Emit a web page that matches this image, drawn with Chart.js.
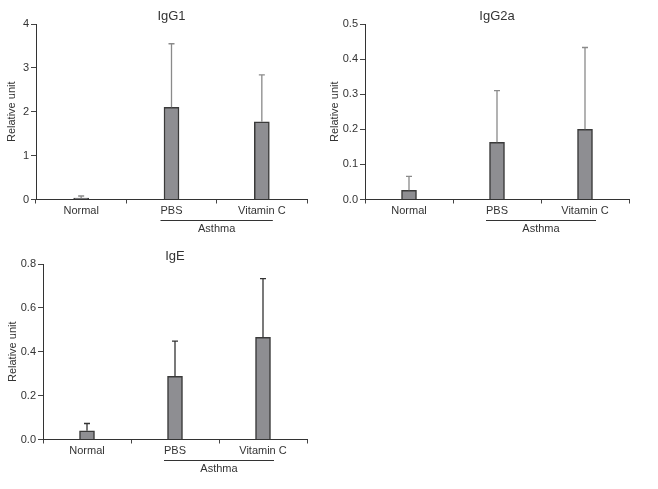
<!DOCTYPE html>
<html>
<head>
<meta charset="utf-8">
<script src="https://cdn.jsdelivr.net/npm/chart.js@4/dist/chart.umd.min.js"></script>
<style>
    body { margin: 0; background: #fff; }
    #wrap { position: relative; width: 658px; height: 489px; }
    canvas { position: absolute; }
</style>
</head>
<body>
<div id="wrap">
    <canvas id="chart_igg1" width="330" height="240" style="left:0px;top:0px"></canvas>
    <canvas id="chart_igg2a" width="332" height="240" style="left:326px;top:0px"></canvas>
    <canvas id="chart_ige" width="330" height="249" style="left:0px;top:240px"></canvas>
</div>
<script>
// groups on the x axis
const groups = ['Normal', 'PBS', 'Vitamin C'];
const asthmaGroups = ['PBS', 'Vitamin C'];

// mean values and top of the error bar (mean + SD)
const igg1Mean = [0.03, 2.10, 1.77];
const igg1Upper = [0.08, 3.55, 2.84];
const igg2aMean = [0.026, 0.163, 0.200];
const igg2aUpper = [0.066, 0.310, 0.433];
const igeMean = [0.040, 0.288, 0.466];
const igeUpper = [0.073, 0.448, 0.733];

const textColor = '#333';
const fontFamily = "'Liberation Sans', Arial, Helvetica, sans-serif";

Chart.defaults.font.family = fontFamily;
Chart.defaults.color = textColor;

// draws title, error bars and the "Asthma" bracket under PBS / Vitamin C
const panelDecor = {
    id: 'panelDecor',
    afterDatasetsDraw(chart, args, opts) {
        const ctx = chart.ctx;
        const area = chart.chartArea;
        const xs = chart.scales.x;
        const ys = chart.scales.y;
        const meta = chart.getDatasetMeta(0);

        // error bars
        ctx.save();
        ctx.strokeStyle = opts.errColor;
        ctx.lineWidth = opts.errWidth;
        meta.data.forEach((bar, i) => {
            const yTop = ys.getPixelForValue(opts.upper[i]);
            ctx.beginPath();
            ctx.moveTo(bar.x, bar.y);
            ctx.lineTo(bar.x, yTop);
            ctx.moveTo(bar.x - 3, yTop);
            ctx.lineTo(bar.x + 3, yTop);
            ctx.stroke();
        });
        ctx.restore();
    },
    afterDraw(chart, args, opts) {
        const ctx = chart.ctx;
        const area = chart.chartArea;
        const xs = chart.scales.x;

        ctx.save();
        ctx.fillStyle = textColor;
        ctx.textAlign = 'center';
        ctx.textBaseline = 'middle';
        ctx.font = '13px ' + fontFamily;
        ctx.fillText(opts.title, (area.left + area.right) / 2, 16.5);

        // Asthma bracket
        const x1 = xs.getPixelForValue(groups.indexOf(asthmaGroups[0])) - 11;
        const x2 = xs.getPixelForValue(groups.indexOf(asthmaGroups[1])) + 11;
        const yLine = Math.round(area.bottom + 20) + 0.5;
        ctx.strokeStyle = textColor;
        ctx.lineWidth = 1;
        ctx.beginPath();
        ctx.moveTo(x1, yLine);
        ctx.lineTo(x2, yLine);
        ctx.stroke();
        ctx.font = '11px ' + fontFamily;
        ctx.fillText('Asthma', (x1 + x2) / 2, area.bottom + 29);
        ctx.restore();
    }
};

function makePanel(id, title, mean, upper, yMax, yStep, decimals, box, errColor) {
    const ctx = document.getElementById(id).getContext('2d');
    return new Chart(ctx, {
        type: 'bar',
        data: {
            labels: groups,
            datasets: [{
                data: mean,
                backgroundColor: '#8e8e92',
                borderColor: '#3a3a3a',
                borderWidth: 1.5,
                borderSkipped: 'bottom',
                barThickness: 15
            }]
        },
        options: {
            responsive: false,
            animation: false,
            devicePixelRatio: 1,
            layout: {
                padding: { top: 24, left: 0, right: box.padRight, bottom: 0 }
            },
            plugins: {
                legend: { display: false },
                tooltip: { enabled: false },
                panelDecor: { title: title, upper: upper, errColor: errColor, errWidth: 1.3 }
            },
            scales: {
                x: {
                    afterFit(scale) { scale.height = box.xHeight; },
                    grid: {
                        offset: true,
                        drawOnChartArea: false,
                        tickLength: 4,
                        color: '#444'
                    },
                    border: { display: true, color: '#333', width: 1 },
                    ticks: { padding: 1, font: { size: 11 }, color: textColor }
                },
                y: {
                    min: 0,
                    max: yMax,
                    afterFit(scale) { scale.width = box.yWidth; },
                    grid: {
                        drawOnChartArea: false,
                        tickLength: 5,
                        color: '#444'
                    },
                    border: { display: true, color: '#333', width: 1 },
                    ticks: {
                        stepSize: yStep,
                        padding: 2,
                        font: { size: 11 },
                        color: textColor,
                        callback: v => v.toFixed(decimals)
                    },
                    title: {
                        display: true,
                        text: 'Relative unit',
                        font: { size: 11, lineHeight: 1 },
                        color: textColor,
                        padding: { top: box.titlePad, bottom: 0 }
                    }
                }
            }
        },
        plugins: [panelDecor]
    });
}

makePanel('chart_igg1', 'IgG1', igg1Mean, igg1Upper, 4, 1, 0,
    { padRight: 23, xHeight: 40.5, yWidth: 36, titlePad: 6.5 }, '#8a8a8a');
makePanel('chart_igg2a', 'IgG2a', igg2aMean, igg2aUpper, 0.5, 0.1, 1,
    { padRight: 29, xHeight: 40.5, yWidth: 39, titlePad: 3 }, '#8a8a8a');
makePanel('chart_ige', 'IgE', igeMean, igeUpper, 0.8, 0.2, 1,
    { padRight: 23, xHeight: 49.5, yWidth: 43, titlePad: 7 }, '#333333');
</script>
</body>
</html>
